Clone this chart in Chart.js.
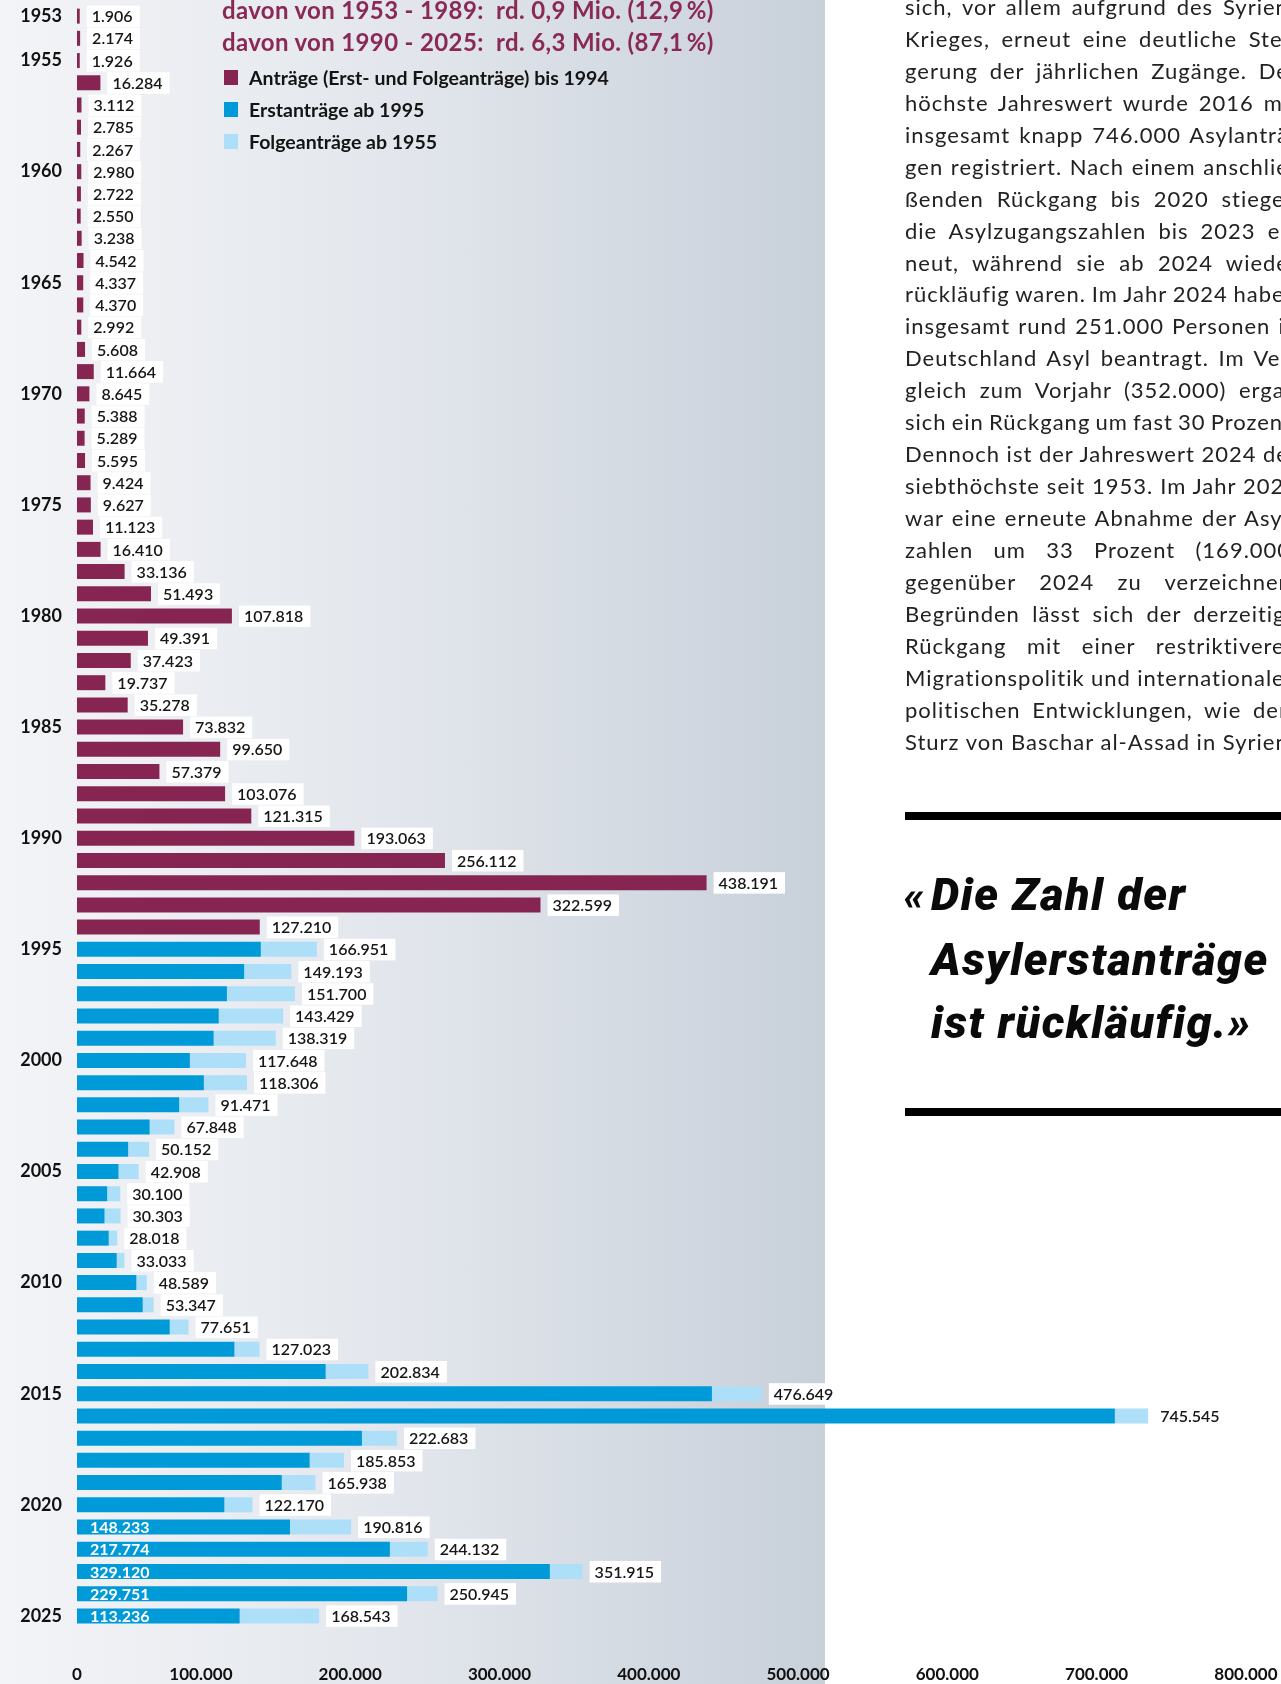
<!DOCTYPE html>
<html lang="de">
<head>
<meta charset="utf-8">
<title>Asylanträge 1953 - 2025</title>
<script src="https://cdn.jsdelivr.net/npm/chart.js@4.4.1/dist/chart.umd.min.js"></script>
<style>
  html, body { margin: 0; padding: 0; }
  body {
    width: 1281px; height: 1684px; position: relative; overflow: hidden;
    background: #fff; font-family: Lato, "Noto Sans", sans-serif; color: #1e1e1e;
  }
  #panel {
    position: absolute; left: 0; top: 0; width: 825px; height: 1684px;
    background: linear-gradient(to right, #f3f4f7 0%, #e2e6ec 50%, #c8d0da 100%);
  }
  #chartBox { position: absolute; left: 0; top: 0; width: 1281px; height: 1684px; }
  #head { position: absolute; left: 222px; top: -6px; }
  .sum { font-weight: 700; font-size: 24px; letter-spacing: 0.35px; line-height: 32px; color: #8a2856; white-space: nowrap; }
  .item {
    position: absolute; left: 224px; height: 32px; display: flex; align-items: center;
    font-weight: 700; font-size: 19.5px; color: #141414; white-space: nowrap;
  }
  .item i { display: inline-block; width: 14px; height: 15px; margin-right: 11px; }
  #text { position: absolute; left: 905px; top: -9px; font-size: 22px; letter-spacing: 1px; line-height: 31.93px; color: #222; }
  #text div { white-space: nowrap; }
  .rule { position: absolute; left: 905px; width: 420px; height: 8px; background: #000; }
  #quote {
    position: absolute; left: 931px; top: 864px; font-family: Roboto, Lato, sans-serif;
    font-style: italic; font-weight: 900; font-size: 45px; letter-spacing: 1.5px; line-height: 62.8px;
    color: #0a0a0a; white-space: nowrap;
  }
  #quote .gq { display: inline-block; width: 27px; margin-left: -27px; font-size: 40px; letter-spacing: 0; }
</style>
</head>
<body>
<div id="panel"></div>
<div id="chartBox"><canvas id="chart" width="1281" height="1684"></canvas></div>

<div id="head">
  <div class="sum">davon von 1953 - 1989:&nbsp; rd. 0,9 Mio. (12,9&#8201;%)</div>
  <div class="sum">davon von 1990 - 2025:&nbsp; rd. 6,3 Mio. (87,1&#8201;%)</div>
</div>
<div class="item" style="top:61px"><i style="background:#872552"></i>Anträge (Erst- und Folgeanträge) bis 1994</div>
<div class="item" style="top:93px"><i style="background:#009ad8"></i>Erstanträge ab 1995</div>
<div class="item" style="top:125px"><i style="background:#aedff8"></i>Folgeanträge ab 1955</div>

<div id="text">
  <div>sich, vor allem aufgrund des Syrien-</div>
  <div>Krieges, erneut eine deutliche Stei-</div>
  <div>gerung der jährlichen Zugänge. Der</div>
  <div>höchste Jahreswert wurde 2016 mit</div>
  <div>insgesamt knapp 746.000 Asylanträ-</div>
  <div>gen registriert. Nach einem anschlie-</div>
  <div>ßenden Rückgang bis 2020 stiegen</div>
  <div>die Asylzugangszahlen bis 2023 er-</div>
  <div>neut, während sie ab 2024 wieder</div>
  <div>rückläufig waren. Im Jahr 2024 haben</div>
  <div>insgesamt rund 251.000 Personen in</div>
  <div>Deutschland Asyl beantragt. Im Ver-</div>
  <div>gleich zum Vorjahr (352.000) ergab</div>
  <div>sich ein Rückgang um fast 30 Prozent.</div>
  <div>Dennoch ist der Jahreswert 2024 der</div>
  <div>siebthöchste seit 1953. Im Jahr 2025</div>
  <div>war eine erneute Abnahme der Asyl-</div>
  <div>zahlen um 33 Prozent (169.000)</div>
  <div>gegenüber 2024 zu verzeichnen.</div>
  <div>Begründen lässt sich der derzeitige</div>
  <div>Rückgang mit einer restriktiveren</div>
  <div>Migrationspolitik und internationalen</div>
  <div>politischen Entwicklungen, wie dem</div>
  <div>Sturz von Baschar al-Assad in Syrien.</div>
</div>

<div class="rule" style="top:812px"></div>
<div id="quote">
  <div><span class="gq">«</span>Die Zahl der</div>
  <div>Asylerstanträge</div>
  <div>ist rückläufig.»</div>
</div>
<div class="rule" style="top:1108px"></div>

<script>
const years = [
  1953, 1954, 1955, 1956, 1957, 1958, 1959, 1960, 1961, 1962,
  1963, 1964, 1965, 1966, 1967, 1968, 1969, 1970, 1971, 1972,
  1973, 1974, 1975, 1976, 1977, 1978, 1979, 1980, 1981, 1982,
  1983, 1984, 1985, 1986, 1987, 1988, 1989, 1990, 1991, 1992,
  1993, 1994, 1995, 1996, 1997, 1998, 1999, 2000, 2001, 2002,
  2003, 2004, 2005, 2006, 2007, 2008, 2009, 2010, 2011, 2012,
  2013, 2014, 2015, 2016, 2017, 2018, 2019, 2020, 2021, 2022,
  2023, 2024, 2025
];

// 1953 - 1994: Anträge gesamt
const antraegeBis1994 = [
  1906, 2174, 1926, 16284, 3112, 2785, 2267, 2980, 2722, 2550,
  3238, 4542, 4337, 4370, 2992, 5608, 11664, 8645, 5388, 5289,
  5595, 9424, 9627, 11123, 16410, 33136, 51493, 107818, 49391, 37423,
  19737, 35278, 73832, 99650, 57379, 103076, 121315, 193063, 256112, 438191,
  322599, 127210
];

// 1995 - 2025: Anträge gesamt und Erstanträge
const gesamtAb1995 = [
  166951, 149193, 151700, 143429, 138319, 117648, 118306, 91471, 67848, 50152,
  42908, 30100, 30303, 28018, 33033, 48589, 53347, 77651, 127023, 202834,
  476649, 745545, 222683, 185853, 165938, 122170, 190816, 244132, 351915, 250945,
  168543
];
const erstAb1995 = [
  127937, 116367, 104353, 98644, 95113, 78564, 88287, 71127, 50563, 35607,
  28914, 21029, 19164, 22085, 27649, 41332, 45741, 64539, 109580, 173072,
  441899, 722370, 198317, 161931, 142509, 102581, 148233, 217774, 329120, 229751,
  113236
];

const yearLabels = [1953, 1955, 1960, 1965, 1970, 1975, 1980, 1985, 1990, 1995, 2000, 2005, 2010, 2015, 2020, 2025];
const xTickValues = [0, 100000, 200000, 300000, 400000, 500000, 600000, 700000, 800000];
const innerLabelYears = [2021, 2022, 2023, 2024, 2025];

const PURPLE = '#872552';
const BLUE = '#009ad8';
const LIGHT = '#aedff8';

const fmt = n => String(n).replace(/\B(?=(\d{3})+(?!\d))/g, '.');

const nBefore = antraegeBis1994.length;
const nAfter = gesamtAb1995.length;
const pad = n => new Array(n).fill(null);

const purpleData = antraegeBis1994.concat(pad(nAfter));
const erstData = pad(nBefore).concat(erstAb1995);
const folgeData = pad(nBefore).concat(gesamtAb1995.map((g, i) => g - erstAb1995[i]));
const totals = antraegeBis1994.concat(gesamtAb1995);

// justify the text column lines (the column runs past the page edge)
const COL_W = 393;
const lines = document.querySelectorAll('#text div');
lines.forEach((line, i) => {
  if (i === lines.length - 1) return;
  const spaces = (line.textContent.match(/ /g) || []).length;
  if (!spaces) return;
  line.style.display = 'inline-block';
  const w = line.getBoundingClientRect().width;
  line.style.display = 'block';
  line.style.wordSpacing = ((COL_W - w) / spaces) + 'px';
});

const valueBoxes = {
  id: 'valueBoxes',
  afterDatasetsDraw(chart) {
    const ctx = chart.ctx;
    const xs = chart.scales.x;
    const ys = chart.scales.y;
    ctx.save();
    ctx.textBaseline = 'middle';
    ctx.textAlign = 'left';
    totals.forEach((total, i) => {
      const y = ys.getPixelForValue(i);
      const xEnd = xs.getPixelForValue(total);
      const txt = fmt(total);
      ctx.font = '600 16px Lato';
      const w = ctx.measureText(txt).width;
      const bx = xEnd + 7;
      ctx.fillStyle = '#ffffff';
      ctx.fillRect(bx, y - 10.5, w + 12, 21.5);
      ctx.fillStyle = '#161616';
      ctx.fillText(txt, bx + 5, y + 1);
      if (innerLabelYears.includes(years[i])) {
        ctx.font = 'bold 16px Lato';
        ctx.fillStyle = '#ffffff';
        ctx.fillText(fmt(erstData[i]), xs.getPixelForValue(0) + 13, y + 1);
      }
    });
    ctx.restore();
  }
};

Chart.defaults.font.family = 'Lato';

new Chart(document.getElementById('chart'), {
  type: 'bar',
  data: {
    labels: years,
    datasets: [
      { label: 'Anträge (Erst- und Folgeanträge) bis 1994', data: purpleData, backgroundColor: PURPLE },
      { label: 'Erstanträge ab 1995', data: erstData, backgroundColor: BLUE },
      { label: 'Folgeanträge ab 1955', data: folgeData, backgroundColor: LIGHT }
    ]
  },
  options: {
    indexAxis: 'y',
    responsive: false,
    animation: false,
    devicePixelRatio: 1,
    layout: { padding: { top: 5, left: 0, right: 0, bottom: 0 } },
    datasets: { bar: { categoryPercentage: 1, barPercentage: 0.675, borderWidth: 0 } },
    plugins: {
      legend: { display: false },
      tooltip: { enabled: false }
    },
    scales: {
      y: {
        stacked: true,
        grid: { display: false, drawTicks: false },
        border: { display: false },
        afterFit: s => { s.width = 77; s.paddingTop = 0; s.paddingBottom = 0; },
        ticks: {
          autoSkip: false,
          padding: 15,
          color: '#111',
          font: { size: 18, weight: 'bold' },
          callback: (v, i) => yearLabels.includes(years[i]) ? String(years[i]) : ''
        }
      },
      x: {
        stacked: true,
        display: false,
        min: 0,
        max: 838000
      },
      x2: {
        type: 'linear',
        position: 'bottom',
        min: 17000,
        max: 823500,
        grid: { display: false, drawTicks: false },
        border: { display: false },
        afterFit: s => { s.height = 57; s.paddingLeft = 0; s.paddingRight = 0; },
        afterBuildTicks: s => { s.ticks = xTickValues.map(v => ({ value: Math.max(v, s.min) })); },
        ticks: {
          padding: 37,
          color: '#111',
          font: { size: 17, weight: 'bold' },
          callback: v => v <= 17000 ? '0' : fmt(v)
        }
      }
    }
  },
  plugins: [valueBoxes]
});
</script>
</body>
</html>
